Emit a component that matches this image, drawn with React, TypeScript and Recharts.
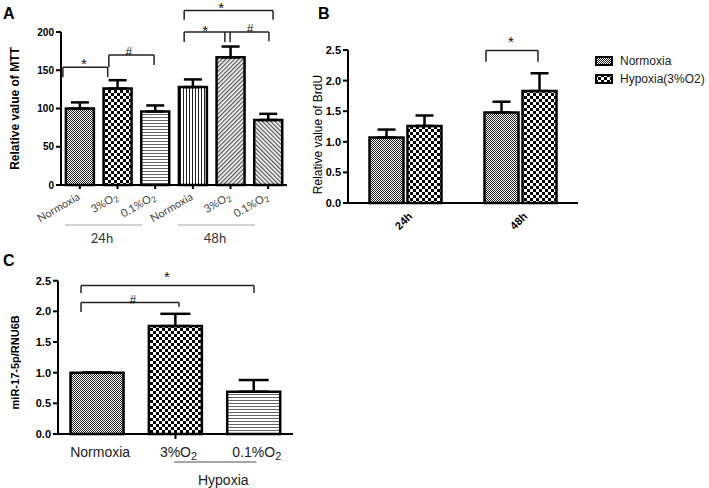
import React from 'react';
import { BarChart, Bar, XAxis, YAxis, Cell, ErrorBar, ReferenceLine, ReferenceDot, Legend } from 'recharts';

// ---------- Panel A (MTT) ----------
const aCategories = ['Normoxia', '3%O2', '0.1%O2', 'Normoxia', '3%O2', '0.1%O2'];
const aGroups = ['24h', '24h', '24h', '48h', '48h', '48h'];
const aValues = [100, 126, 96, 128, 167, 85];
const aErrors = [8, 11, 8, 10, 14, 8];
const aTicks = [0, 50, 100, 150, 200];
const aFills = ['fineChk', 'bigChk', 'hLines', 'vLines', 'diagR', 'diagL'];
// significance brackets: x in category units (0..6), y in MTT units
const aBrackets = [
  { x1: 0.05, x2: 1.24, y: 154, l: 141, r: 141 },
  { x1: 1.27, x2: 2.47, y: 170, l: 154, r: 157 },
  { x1: 3.27, x2: 5.63, y: 228, l: 216, r: 216 },
  { x1: 3.27, x2: 5.52, y: 200, l: 187, r: 188 },
];
const aStems = [
  { x: 4.35, y1: 200, y2: 187 },
  { x: 4.49, y1: 200, y2: 187 },
];
const aMarks = [
  { x: 0.61, y: 158, t: '*' },
  { x: 1.8, y: 174, t: '#' },
  { x: 4.25, y: 232, t: '*' },
  { x: 3.83, y: 202, t: '*' },
  { x: 5.02, y: 204, t: '#' },
];

// ---------- Panel B (BrdU) ----------
const bCategories = ['24h', '48h'];
const bNormoxia = [1.07, 1.48];
const bNormoxiaErr = [0.13, 0.175];
const bHypoxia = [1.26, 1.83];
const bHypoxiaErr = [0.17, 0.29];
const bTicks = [0, 0.5, 1, 1.5, 2, 2.5];
const bSeriesOrder = ['normoxia', 'hypoxia'];
const bBrackets = [{ x1: 1.2, x2: 1.652, y: 2.49, l: 2.31, r: 2.31 }];
const bMarks = [{ x: 1.417, y: 2.64, t: '*' }];

// ---------- Panel C (miR-17-5p) ----------
const cCategories = ['Normoxia', '3%O2', '0.1%O2'];
const cGroups = ['', 'Hypoxia', 'Hypoxia'];
const cValues = [1.0, 1.76, 0.69];
const cErrors = [0, 0.2, 0.19];
const cTicks = [0, 0.5, 1, 1.5, 2, 2.5];
const cFills = ['fineChk', 'bigChk', 'hLines'];
const cBrackets = [
  { x1: 0.294, x2: 1.545, y: 2.145, l: 1.99, r: 2.075 },
  { x1: 0.294, x2: 2.502, y: 2.42, l: 2.3, r: 2.3 },
];
const cMarks = [
  { x: 0.957, y: 2.19, t: '#' },
  { x: 1.39, y: 2.56, t: '*' },
];

const aData = aCategories.map((name, i) => ({ name, pos: i + 0.5, group: aGroups[i], value: aValues[i], err: [0, aErrors[i]] }));
const bData = bCategories.map((name, i) => ({
  name,
  pos: i + 0.5,
  normoxia: bNormoxia[i],
  nErr: [0, bNormoxiaErr[i]],
  hypoxia: bHypoxia[i],
  hErr: [0, bHypoxiaErr[i]],
}));
const cData = cCategories.map((name, i) => ({ name, pos: i + 0.5, group: cGroups[i], value: cValues[i], err: [0, cErrors[i]] }));

const ARIAL = '"Liberation Sans", Arial, Helvetica, sans-serif';
const CAL = 'Lato, "Open Sans", sans-serif';

function subLabel(label: string, subSize: number, dy: number) {
  if (label.endsWith('O2')) {
    return [
      <tspan key="a">{label.slice(0, -1)}</tspan>,
      <tspan key="b" fontSize={subSize} dy={dy}>2</tspan>,
    ];
  }
  return label;
}

const Patterns = () => (
  <svg width={0} height={0} style={{ position: 'absolute' }}>
    <defs>
      <pattern id="fineChk" patternUnits="userSpaceOnUse" width={2} height={2}>
        <rect width={2} height={2} fill="#fff" />
        <rect width={1} height={1} fill="#222" />
        <rect x={1} y={1} width={1} height={1} fill="#222" />
      </pattern>
      <pattern id="bigChk" patternUnits="userSpaceOnUse" width={6} height={6}>
        <rect width={6} height={6} fill="#fff" />
        <rect width={3} height={3} fill="#000" />
        <rect x={3} y={3} width={3} height={3} fill="#000" />
      </pattern>
      <pattern id="hLines" patternUnits="userSpaceOnUse" width={3} height={3}>
        <rect width={3} height={3} fill="#fff" />
        <rect width={3} height={1} fill="#666" />
      </pattern>
      <pattern id="vLines" patternUnits="userSpaceOnUse" width={3} height={3}>
        <rect width={3} height={3} fill="#fff" />
        <rect width={1} height={3} fill="#222" />
      </pattern>
      <pattern id="diagR" patternUnits="userSpaceOnUse" width={3} height={3} patternTransform="rotate(45)">
        <rect width={3} height={3} fill="#fff" />
        <rect width={1.3} height={3} fill="#555" />
      </pattern>
      <pattern id="diagL" patternUnits="userSpaceOnUse" width={3} height={3} patternTransform="rotate(-45)">
        <rect width={3} height={3} fill="#fff" />
        <rect width={1.3} height={3} fill="#555" />
      </pattern>
    </defs>
  </svg>
);

const ATick = (props: any) => {
  const { x, y, payload } = props;
  const px = x + 1;
  const py = y + 10;
  return (
    <text x={px} y={py} transform={`rotate(-30 ${px} ${py})`} textAnchor="end" fontFamily={CAL} fontSize={11} fill="#444">
      {subLabel(payload.value, 8, 2)}
    </text>
  );
};

const AGroupTick = (props: any) => {
  const { x, y, payload } = props;
  return (
    <g>
      <line x1={x - 52.5} x2={x + 24.5} y1={y + 5} y2={y + 5} stroke="#aaa" strokeWidth={1} />
      <text x={x - 15.5} y={y + 23} textAnchor="middle" fontFamily={CAL} fontSize={13} fill="#333">
        {payload.value}
      </text>
    </g>
  );
};

const BTick = (props: any) => {
  const { x, y, payload } = props;
  const px = x + 7.5;
  const py = y + 14;
  return (
    <text x={px} y={py} transform={`rotate(-45 ${px} ${py})`} textAnchor="end" fontFamily={ARIAL} fontSize={11} fontWeight="bold" fill="#000">
      {payload.value}
    </text>
  );
};

const CTick = (props: any) => {
  const { x, y, payload, index } = props;
  return (
    <g>
      {index === 1 && <line x1={x} x2={x} y1={y} y2={y + 5} stroke="#000" strokeWidth={2} />}
      <text x={x + 3} y={y + 23} textAnchor="middle" fontFamily={ARIAL} fontSize={14} fill="#222">
        {subLabel(payload.value, 11, 3)}
      </text>
    </g>
  );
};

const CGroupTick = (props: any) => {
  const { x, y, payload } = props;
  if (!payload.value) return <g />;
  return (
    <g>
      <line x1={x - 60} x2={x + 22} y1={y + 6} y2={y + 6} stroke="#888" strokeWidth={1.5} />
      <text x={x - 11} y={y + 29} textAnchor="middle" fontFamily={ARIAL} fontSize={14} fill="#222">
        {payload.value}
      </text>
    </g>
  );
};

const yLabel = (text: string, cx: number, dy: number, size: number, weight: string) => (props: any) => {
  const vb = props.viewBox || {};
  const x = (vb.x || 0) + cx;
  const y = (vb.y || 0) + (vb.height || 0) / 2 + dy;
  return (
    <text x={x} y={y} transform={`rotate(-90 ${x} ${y})`} textAnchor="middle" dominantBaseline="central" fontFamily={ARIAL} fontSize={size} fontWeight={weight} fill="#000">
      {text}
    </text>
  );
};

const BLegend = (props: any) => {
  const { payload } = props;
  const items = [...(payload || [])].sort((a: any, b: any) => bSeriesOrder.indexOf(a.dataKey) - bSeriesOrder.indexOf(b.dataKey));
  return (
    <div style={{ fontFamily: ARIAL }}>
      {items.map((p: any) => (
        <div key={p.value} style={{ display: 'flex', alignItems: 'center', height: 18 }}>
          <svg width={18} height={10} style={{ display: 'block' }}>
            <rect x={1} y={1} width={16} height={8} fill={p.color} stroke="#000" strokeWidth={2} />
          </svg>
          <span style={{ marginLeft: 7, fontSize: 12, color: '#222', whiteSpace: 'nowrap' }}>{p.value}</span>
        </div>
      ))}
    </div>
  );
};

const axisStyle = { stroke: '#000', strokeWidth: 2 };

function brackets(list: any[], axisId: string, sw: number, color: string) {
  const out: any[] = [];
  list.forEach((b, i) => {
    out.push(
      <ReferenceLine key={`h${i}`} xAxisId={axisId} ifOverflow="visible" stroke={color} strokeWidth={sw}
        segment={[{ x: b.x1, y: b.y }, { x: b.x2, y: b.y }]} />
    );
    out.push(
      <ReferenceLine key={`l${i}`} xAxisId={axisId} ifOverflow="visible" stroke={color} strokeWidth={sw}
        segment={[{ x: b.x1, y: b.y }, { x: b.x1, y: b.l }]} />
    );
    out.push(
      <ReferenceLine key={`r${i}`} xAxisId={axisId} ifOverflow="visible" stroke={color} strokeWidth={sw}
        segment={[{ x: b.x2, y: b.y }, { x: b.x2, y: b.r }]} />
    );
  });
  return out;
}

function marks(list: any[], axisId: string) {
  return list.map((m, i) => (
    <ReferenceDot key={`m${i}`} xAxisId={axisId} x={m.x} y={m.y} r={0} fill="none" stroke="none" ifOverflow="visible"
      label={{ value: m.t, position: 'center', fontSize: m.t === '*' ? 15 : 12, fill: '#111', fontFamily: ARIAL }} />
  ));
}

const letterStyle: React.CSSProperties = {
  position: 'absolute',
  fontFamily: ARIAL,
  fontWeight: 'bold',
  fontSize: 16,
  lineHeight: '16px',
  color: '#000',
};

export default function App() {
  return (
    <div style={{ position: 'absolute', left: 0, top: 0, width: 709, height: 488, background: '#fff', overflow: 'hidden', fontFamily: ARIAL }}>
      <Patterns />
      <div style={{ ...letterStyle, left: 3, top: 6 }}>A</div>
      <div style={{ ...letterStyle, left: 318, top: 6 }}>B</div>
      <div style={{ ...letterStyle, left: 3, top: 253 }}>C</div>

      {/* Panel A */}
      <div style={{ position: 'absolute', left: 0, top: 0 }}>
        <BarChart width={300} height={250} data={aData} margin={{ top: 32, right: 13, bottom: 0, left: 0 }} barCategoryGap="13%">
          <XAxis dataKey="name" interval={0} height={35} axisLine={axisStyle} tickLine={axisStyle} tickSize={4} tickMargin={0} tick={ATick} />
          <XAxis xAxisId="g" dataKey="group" allowDuplicatedCategory={false} interval={0} height={30} axisLine={false} tickLine={false} tickSize={0} tickMargin={0} tick={AGroupTick} />
          <XAxis xAxisId="n" dataKey="pos" type="number" domain={[0, 6]} allowDataOverflow hide />
          <YAxis domain={[0, 200]} ticks={aTicks} interval={0} width={61} axisLine={axisStyle} tickLine={axisStyle} tickSize={5} tickMargin={2}
            tick={{ fill: '#000', fontSize: 10, fontWeight: 'bold', fontFamily: ARIAL }}
            label={{ content: yLabel('Relative value of MTT', 15, 0, 12, 'bold') }} />
          <Bar dataKey="value" stroke="#000" strokeWidth={2.5} isAnimationActive={false}>
            {aData.map((d, i) => (
              <Cell key={i} fill={`url(#${aFills[i]})`} />
            ))}
            <ErrorBar dataKey="err" width={9} stroke="#000" strokeWidth={2.5} />
          </Bar>
          {brackets(aBrackets, 'n', 1.5, '#222')}
          {aStems.map((s, i) => (
            <ReferenceLine key={`s${i}`} xAxisId="n" ifOverflow="visible" stroke="#222" strokeWidth={1.5}
              segment={[{ x: s.x, y: s.y1 }, { x: s.x, y: s.y2 }]} />
          ))}
          {marks(aMarks, 'n')}
        </BarChart>
      </div>

      {/* Panel B */}
      <div style={{ position: 'absolute', left: 290, top: 0 }}>
        <BarChart width={419} height={260} data={bData} margin={{ top: 50, right: 11, bottom: 0, left: 0 }} barGap={4} barCategoryGap="18.7%">
          <XAxis dataKey="name" interval={0} height={57} axisLine={axisStyle} tickLine={false} tickSize={0} tickMargin={0} tick={BTick} />
          <XAxis xAxisId="n" dataKey="pos" type="number" domain={[0, 2]} allowDataOverflow hide />
          <YAxis domain={[0, 2.5]} ticks={bTicks} interval={0} width={58} axisLine={axisStyle} tickLine={axisStyle} tickSize={5} tickMargin={2}
            tickFormatter={(v: number) => v.toFixed(1)}
            tick={{ fill: '#000', fontSize: 11, fontWeight: 'bold', fontFamily: ARIAL }}
            label={{ content: yLabel('Relative value of BrdU', 28, 8, 12, 'normal') }} />
          <Legend layout="vertical" verticalAlign="top" align="right" wrapperStyle={{ left: 305, top: 52, width: 120 }} content={BLegend} />
          <Bar dataKey="normoxia" name="Normoxia" fill="url(#fineChk)" stroke="#000" strokeWidth={2.5} isAnimationActive={false}>
            <ErrorBar dataKey="nErr" width={9} stroke="#000" strokeWidth={2.5} />
          </Bar>
          <Bar dataKey="hypoxia" name="Hypoxia(3%O2)" fill="url(#bigChk)" stroke="#000" strokeWidth={2.5} isAnimationActive={false}>
            <ErrorBar dataKey="hErr" width={9} stroke="#000" strokeWidth={2.5} />
          </Bar>
          {brackets(bBrackets, 'n', 1.5, '#222')}
          {marks(bMarks, 'n')}
        </BarChart>
      </div>

      {/* Panel C */}
      <div style={{ position: 'absolute', left: 0, top: 250 }}>
        <BarChart width={310} height={238} data={cData} margin={{ top: 30.7, right: 17, bottom: 0, left: 0 }} barCategoryGap="16%">
          <XAxis dataKey="name" interval={0} height={22} axisLine={axisStyle} tickLine={false} tickSize={0} tickMargin={0} tick={CTick} />
          <XAxis xAxisId="g" dataKey="group" allowDuplicatedCategory={false} interval={0} height={32} axisLine={false} tickLine={false} tickSize={0} tickMargin={0} tick={CGroupTick} />
          <XAxis xAxisId="n" dataKey="pos" type="number" domain={[0, 3]} allowDataOverflow hide />
          <YAxis domain={[0, 2.5]} ticks={cTicks} interval={0} width={58} axisLine={axisStyle} tickLine={axisStyle} tickSize={5} tickMargin={2}
            tickFormatter={(v: number) => v.toFixed(1)}
            tick={{ fill: '#000', fontSize: 11, fontWeight: 'bold', fontFamily: ARIAL }}
            label={{ content: yLabel('miR-17-5p/RNU6B', 15, 5, 11, 'bold') }} />
          <Bar dataKey="value" stroke="#000" strokeWidth={2.5} isAnimationActive={false}>
            {cData.map((d, i) => (
              <Cell key={i} fill={`url(#${cFills[i]})`} />
            ))}
            <ErrorBar dataKey="err" width={15} stroke="#000" strokeWidth={2.5} />
          </Bar>
          {brackets(cBrackets, 'n', 1.5, '#222')}
          {marks(cMarks, 'n')}
        </BarChart>
      </div>
    </div>
  );
}
